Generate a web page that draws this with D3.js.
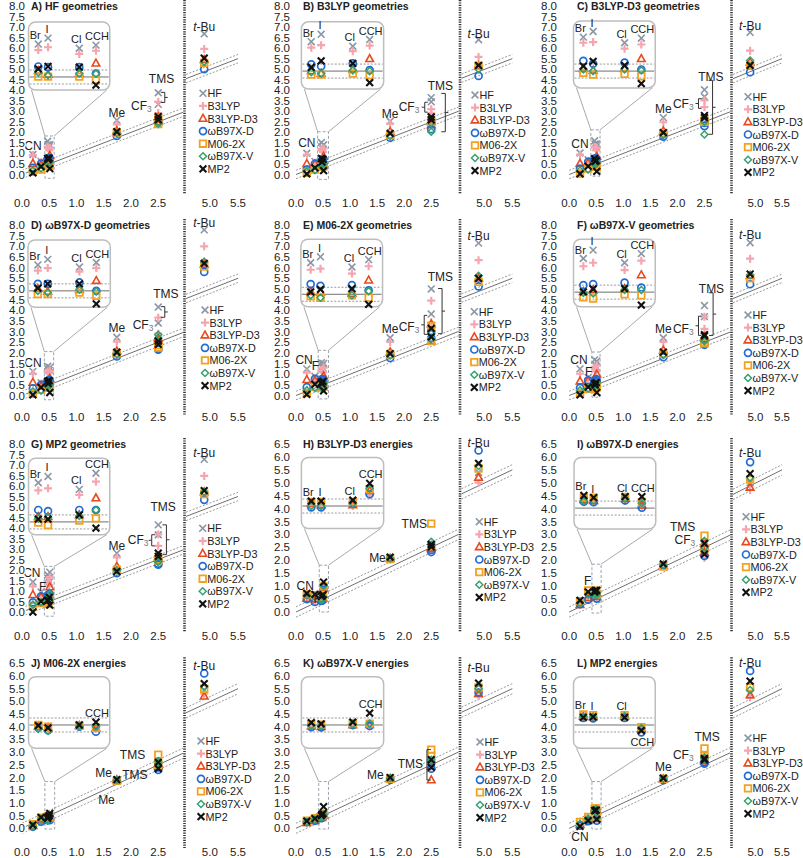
<!DOCTYPE html>
<html><head><meta charset="utf-8">
<script src="https://cdn.jsdelivr.net/npm/d3@7"></script>
<style>
body{margin:0;background:#fff}
svg{display:block}
text{font-family:"Liberation Sans",Arial,Helvetica,sans-serif;fill:#222}
</style></head><body>
<svg id="c" width="803" height="858"></svg>
<script>
// ---------------- DATA ----------------
const methods = ["HF","B3LYP","B3LYP-D3","\u03c9B97X-D","M06-2X","\u03c9B97X-V","MP2"];
const substituents = ["CN","F","Br","I","Cl","CCH","Me","CF3","TMS","t-Bu"];
const subX = [0.2,0.35,0.48,0.47,0.5,0.51,1.74,2.5,2.5,4.9];
const insetSubs = ["Br","I","Cl","CCH"];
const yTicksGeom = [0,0.5,1,1.5,2,2.5,3,3.5,4,4.5,5,5.5,6,6.5,7,7.5,8];
const yTicksEnergy = [0,0.5,1,1.5,2,2.5,3,3.5,4,4.5,5,5.5,6,6.5];
const xTicks = [0,0.5,1,1.5,2,2.5,5,5.5];
const titles = ["A) HF geometries","B) B3LYP geometries","C) B3LYP-D3 geometries",
 "D) \u03c9B97X-D geometries","E) M06-2X geometries","F) \u03c9B97X-V geometries",
 "G) MP2 geometries","H) B3LYP-D3 energies","I) \u03c9B97X-D energies",
 "J) M06-2X energies","K) \u03c9B97X-V energies","L) MP2 energies"];

// rows: HF, B3LYP, B3LYP-D3, wB97X-D, M06-2X, wB97X-V, MP2
// cols: CN, F, Br, I, Cl, CCH, Me, CF3, TMS, t-Bu
const valuesA = [
 [0.95,0.62,1.42,1.58,1.32,1.42,2.58,3.33,3.88,6.68],
 [0.92,0.58,1.25,1.32,1.16,1.26,2.38,2.92,3.45,5.96],
 [0.52,0.45,0.66,0.54,0.60,0.90,2.07,2.60,2.72,5.45],
 [0.32,0.52,0.78,0.75,0.78,0.61,1.83,2.40,2.45,5.00],
 [0.13,0.24,0.49,0.48,0.51,0.43,1.99,2.40,2.68,5.30],
 [0.19,0.30,0.61,0.52,0.60,0.60,1.96,2.42,2.50,5.35],
 [0.08,0.37,0.71,0.77,0.78,0.28,2.03,2.60,2.75,5.52]];
const valuesB = [
 [1.01,0.62,1.32,1.52,1.21,1.41,2.53,3.45,3.65,6.40],
 [0.94,0.55,1.15,1.21,1.07,1.24,2.42,2.90,3.10,5.58],
 [0.51,0.50,0.48,0.40,0.55,0.86,2.03,2.50,2.35,5.15],
 [0.23,0.51,0.67,0.61,0.72,0.54,1.75,2.45,2.15,4.68],
 [0.08,0.23,0.38,0.37,0.43,0.39,1.87,2.55,2.50,5.15],
 [0.16,0.20,0.45,0.40,0.52,0.51,1.83,2.45,2.03,5.00],
 [0.03,0.31,0.59,0.76,0.72,0.18,1.95,2.60,2.73,5.18]];
const valuesC = [
 [1.02,0.70,1.45,1.60,1.31,1.45,2.70,3.69,4.02,6.75],
 [0.94,0.63,1.29,1.30,1.14,1.27,2.48,3.20,3.52,5.88],
 [0.52,0.55,0.55,0.49,0.57,0.86,2.07,2.55,2.60,5.33],
 [0.28,0.60,0.77,0.68,0.74,0.55,1.80,2.45,2.30,4.86],
 [0.05,0.28,0.43,0.37,0.42,0.36,1.96,2.55,2.50,5.18],
 [0.19,0.24,0.53,0.47,0.55,0.53,1.88,2.50,1.90,5.41],
 [0.03,0.39,0.62,0.75,0.66,0.15,1.99,2.70,2.80,5.18]];
const valuesD = [
 [1.13,0.60,1.22,1.37,1.18,1.32,2.73,3.40,4.15,7.77],
 [1.02,0.55,1.06,1.12,1.05,1.16,2.53,2.90,3.65,7.00],
 [0.61,0.45,0.54,0.45,0.53,0.80,2.09,2.60,2.70,6.15],
 [0.34,0.50,0.68,0.67,0.74,0.51,1.83,2.15,2.20,5.80],
 [0.08,0.27,0.39,0.38,0.45,0.37,1.98,2.25,2.35,6.05],
 [0.19,0.23,0.48,0.42,0.53,0.49,1.95,2.70,2.85,6.28],
 [0.03,0.38,0.56,0.67,0.70,0.14,2.03,2.40,2.55,6.20]];
const valuesE = [
 [1.25,0.90,1.38,1.54,1.28,1.50,2.71,3.82,5.00,7.15],
 [1.07,0.80,1.18,1.20,1.09,1.31,2.51,3.43,4.45,6.35],
 [0.74,0.70,0.55,0.52,0.52,0.91,2.04,2.55,3.35,5.50],
 [0.39,0.78,0.77,0.71,0.76,0.62,1.76,2.70,3.00,5.12],
 [0.11,0.40,0.42,0.37,0.47,0.41,1.93,2.55,3.25,5.33],
 [0.24,0.36,0.45,0.37,0.47,0.60,1.88,2.65,2.90,5.62],
 [0.05,0.52,0.55,0.61,0.66,0.22,1.96,2.75,3.15,5.50]];
const valuesF = [
 [1.25,0.85,1.44,1.67,1.34,1.61,2.71,3.70,4.22,7.17],
 [1.02,0.78,1.22,1.31,1.13,1.41,2.51,3.13,3.70,6.42],
 [0.67,0.68,0.49,0.53,0.60,1.00,2.12,2.70,2.75,5.62],
 [0.36,0.71,0.68,0.70,0.77,0.64,1.80,2.40,2.38,5.22],
 [0.11,0.31,0.33,0.29,0.44,0.42,1.96,2.45,2.50,5.50],
 [0.24,0.33,0.46,0.43,0.56,0.57,1.91,2.55,2.60,5.65],
 [0.03,0.39,0.49,0.56,0.60,0.14,2.04,2.80,2.85,5.70]];
const valuesG = [
 [1.43,0.95,1.60,1.77,1.43,1.90,2.80,3.68,4.15,7.27],
 [1.22,0.85,1.38,1.43,1.27,1.66,2.60,3.15,3.70,6.48],
 [0.82,0.72,0.63,0.62,0.70,1.19,2.17,2.55,2.62,5.72],
 [0.46,0.74,0.82,0.78,0.84,0.85,1.85,2.30,2.25,5.34],
 [0.27,0.43,0.46,0.38,0.54,0.61,2.01,2.45,2.50,5.62],
 [0.35,0.46,0.58,0.60,0.67,0.85,1.98,2.40,2.38,5.70],
 [0.00,0.51,0.56,0.55,0.70,0.33,1.93,2.65,2.80,5.78]];
const valuesH = [
 [0.60,0.45,0.55,0.50,0.55,0.88,2.05,2.50,2.60,5.40],
 [0.55,0.42,0.52,0.44,0.50,0.82,2.05,2.45,2.55,5.00],
 [0.52,0.50,0.56,0.50,0.53,0.95,2.07,2.45,2.50,5.20],
 [0.50,0.39,0.44,0.43,0.58,0.85,2.05,2.32,2.40,6.25],
 [0.68,0.65,0.60,0.59,0.62,0.99,2.05,2.55,3.42,5.55],
 [0.64,0.58,0.48,0.47,0.57,1.01,2.08,2.60,2.72,5.65],
 [0.72,0.68,0.62,0.61,0.67,1.16,2.12,2.52,2.62,5.75]];
const valuesI = [
 [0.30,0.60,0.75,0.70,0.76,0.60,1.80,2.30,2.70,5.00],
 [0.28,0.55,0.70,0.65,0.70,0.57,1.78,2.10,2.60,4.72],
 [0.28,0.55,0.72,0.68,0.77,0.59,1.80,2.30,2.65,4.82],
 [0.30,0.48,0.66,0.64,0.72,0.52,1.80,2.17,2.45,5.80],
 [0.42,0.83,0.78,0.77,0.82,0.68,1.76,2.45,2.95,5.12],
 [0.35,0.68,0.68,0.68,0.77,0.65,1.82,2.50,2.75,5.20],
 [0.45,0.78,0.84,0.77,0.83,0.84,1.86,2.24,2.65,5.35]];
const valuesJ = [
 [0.12,0.35,0.45,0.38,0.47,0.42,1.90,2.45,2.60,5.45],
 [0.10,0.30,0.43,0.36,0.46,0.40,1.88,2.40,2.55,5.30],
 [0.10,0.32,0.44,0.39,0.48,0.42,1.90,2.45,2.55,5.20],
 [0.06,0.26,0.40,0.32,0.45,0.32,1.88,2.30,2.40,6.10],
 [0.16,0.42,0.48,0.42,0.48,0.43,1.87,2.50,2.90,5.50],
 [0.08,0.37,0.37,0.30,0.46,0.46,1.90,2.55,2.65,5.58],
 [0.13,0.43,0.46,0.39,0.50,0.59,1.92,2.35,2.60,5.70]];
const valuesK = [
 [0.22,0.30,0.45,0.43,0.50,0.52,1.95,2.50,2.60,5.35],
 [0.20,0.28,0.42,0.40,0.48,0.50,1.93,2.45,2.55,5.20],
 [0.22,0.30,0.45,0.42,0.50,0.52,1.95,2.45,1.90,5.30],
 [0.25,0.30,0.42,0.40,0.50,0.48,1.92,2.35,2.60,5.35],
 [0.30,0.40,0.50,0.48,0.55,0.55,1.95,2.85,3.10,5.55],
 [0.25,0.35,0.47,0.44,0.52,0.55,1.98,2.55,2.70,5.50],
 [0.28,0.38,0.55,0.50,0.58,0.85,2.00,2.40,2.70,5.72]];
const valuesL = [
 [0.15,0.35,0.75,0.72,0.75,0.40,1.95,2.70,2.75,5.30],
 [0.12,0.30,0.70,0.68,0.72,0.38,1.92,2.60,2.70,5.15],
 [0.14,0.32,0.72,0.70,0.74,0.40,1.93,2.65,2.70,5.25],
 [0.10,0.28,0.68,0.66,0.70,0.30,1.90,2.55,2.60,6.20],
 [0.25,0.45,0.78,0.75,0.78,0.45,1.95,2.85,3.15,5.55],
 [0.18,0.38,0.72,0.70,0.75,0.42,1.95,2.75,2.80,5.45],
 [0.08,0.30,0.70,0.70,0.72,0.35,1.98,2.70,2.75,5.80]];
const panelValues = [valuesA,valuesB,valuesC,valuesD,valuesE,valuesF,valuesG,valuesH,valuesI,valuesJ,valuesK,valuesL];

// ---------------- LAYOUT / STYLE ----------------
const COLS = [
 {x0:22, k:54.5, brk:184.5, rd0:4.55, r1:238, lab:25},
 {x0:296, k:54.1, brk:460, rd0:4.57, r1:512.3, lab:290},
 {x0:569.2, k:54.1, brk:731.5, rd0:4.55, r1:782, lab:557}
];
const ROWS = [
 {top:6, zero:174.5, xl:203, tt:6},
 {top:225, zero:395.5, xl:417, tt:225},
 {top:444, zero:612, xl:636, tt:444},
 {top:663.3, zero:828.3, xl:852, tt:663}
];
const titleX = [31, 303, 577];
const insetFrac = [0.12,0.24,0.625,0.83];
const insetLabelShift = {Br:-3, I:-1, Cl:-3, CCH:1};
const insetPxPerUnit = 35;
const ALL_INSET = ["Br","I","Cl","CCH"];
const LAY = [
 {inset:[0.12,1.61,7.24,4.01,4.63], rect:[0.42,0.59,-0.18,1.83], leg:[203,93.3], il:ALL_INSET,
  notes:[["CN",0.2,1.35,"middle"],["Me",1.74,2.9,"middle"],["t-Bu",4.9,7.0,"middle"],["TMS",2.56,4.53,"middle"],["CF3",2.38,3.26,"end"]],
  br:[[2.62,3.9,3.42,"]"]]},
 {inset:[0.10,1.62,7.25,4.06,4.91], rect:[0.40,0.60,-0.23,2.03], leg:[475,95], il:ALL_INSET,
  notes:[["CN",0.2,1.48,"middle"],["Me",1.74,2.89,"middle"],["t-Bu",4.9,6.68,"middle"],["TMS",2.67,4.18,"middle"],["CF3",2.28,3.2,"end"]],
  br:[[2.76,3.85,2.03,"]"],[2.38,3.43,2.96,"{"]]},
 {inset:[0.08,1.59,7.29,4.11,4.91], rect:[0.40,0.57,-0.08,2.12], leg:[748,96.7], il:ALL_INSET,
  notes:[["CN",0.2,1.46,"middle"],["Me",1.74,3.09,"middle"],["t-Bu",4.9,7.06,"middle"],["TMS",2.62,4.63,"middle"],["CF3",2.3,3.37,"end"]],
  br:[[2.65,4.47,1.91,"]"],[2.39,3.6,3.14,"{"]]},
 {inset:[0.11,1.62,7.3,4.14,4.91], rect:[0.41,0.58,-0.2,2.06], leg:[205,310], il:ALL_INSET,
  notes:[["CN",0.2,1.52,"middle"],["Me",1.74,3.16,"middle"],["t-Bu",4.9,8.1,"middle"],["TMS",2.64,4.77,"middle"],["CF3",2.41,3.31,"end"]],
  br:[[2.62,4.17,3.67,"]"]]},
 {inset:[0.09,1.60,7.33,4.16,4.75], rect:[0.41,0.60,-0.16,2.12], leg:[474.3,311.7], il:ALL_INSET,
  notes:[["CN",0.15,1.68,"middle"],["F",0.36,1.38,"middle"],["Me",1.74,3.14,"middle"],["t-Bu",4.9,7.5,"middle"],["TMS",2.67,5.57,"middle"],["CF3",2.28,3.22,"end"]],
  br:[[2.7,5.02,2.9,"]"],[2.37,3.76,2.87,"{"]]},
 {inset:[0.08,1.59,7.33,4.16,4.85], rect:[0.42,0.57,-0.08,2.04], leg:[748,315], il:ALL_INSET,
  notes:[["CN",0.18,1.68,"middle"],["F",0.36,1.08,"middle"],["Me",1.74,3.14,"middle"],["t-Bu",4.9,7.53,"middle"],["TMS",2.63,5.02,"middle"],["CF3",2.3,3.14,"end"]],
  br:[[2.66,4.82,2.82,"]"],[2.39,3.72,2.82,"{"]]},
 {inset:[0.12,1.61,7.32,3.68,4.29], rect:[0.41,0.59,-0.2,2.17], leg:[202.7,528.3], il:ALL_INSET,
  notes:[["CN",0.18,1.86,"middle"],["F",0.38,1.2,"middle"],["Me",1.74,3.15,"middle"],["t-Bu",4.9,7.59,"middle"],["TMS",2.59,4.99,"middle"],["CF3",2.32,3.44,"end"]],
  br:[[2.65,4.15,2.73,"]"],[2.38,3.68,3.15,"{"]]},
 {inset:[0.10,1.62,5.98,3.23,4.1], rect:[0.43,0.60,0.0,1.81], leg:[479.3,521.7], il:ALL_INSET,
  notes:[["CN",0.17,1.0,"middle"],["F",0.39,0.5,"middle"],["Me",1.66,2.09,"end"],["t-Bu",4.9,6.55,"middle"],["TMS",2.42,3.42,"end"]],
  br:[]},
 {inset:[0.09,1.60,5.98,3.21,4.02], rect:[0.42,0.59,-0.04,1.85], leg:[746,516.7], il:ALL_INSET,
  notes:[["F",0.34,1.2,"middle"],["t-Bu",4.9,6.14,"middle"],["TMS",2.33,3.28,"end"],["CF3",2.33,2.78,"end"]],
  br:[]},
 {inset:[0.12,1.61,5.97,3.15,4.07], rect:[0.42,0.60,-0.03,1.84], leg:[201,741], il:["CCH"],
  notes:[["Me",1.65,2.17,"end"],["TMS",2.07,2.1,"middle"],["Me",1.55,1.12,"middle"],["TMS",2.26,2.89,"end"],["t-Bu",4.9,6.4,"middle"]],
  br:[]},
 {inset:[0.10,1.62,5.97,3.15,4.07], rect:[0.42,0.60,-0.03,1.84], leg:[480,742], il:["CCH"],
  notes:[["Me",1.62,2.1,"end"],["TMS",2.35,2.55,"end"],["t-Bu",4.9,6.3,"middle"]],
  br:[[2.42,3.1,1.9,"["]]},
 {inset:[0.08,1.59,5.97,3.15,4.07], rect:[0.42,0.59,-0.03,1.84], leg:[748,738], il:ALL_INSET,
  notes:[["CN",0.2,-0.35,"middle"],["Me",1.74,2.4,"middle"],["TMS",2.55,3.6,"middle"],["CF3",2.3,2.9,"end"],["t-Bu",4.9,6.5,"middle"]],
  br:[]}
];

const SYM = [
 {type:"x", color:"#8b97a5", w:1.6},
 {type:"plus", color:"#f6a5ae", w:2.2},
 {type:"tri", color:"#e8491d", w:1.6},
 {type:"circle", color:"#1f6cd4", w:1.7},
 {type:"square", color:"#f3a21f", w:1.8},
 {type:"diamond", color:"#36a06f", w:1.5},
 {type:"x", color:"#111111", w:2.1}
];
const TICK_FS = 11.5, LEG_FS = 10.8, NOTE_FS = 12, INSET_FS = 11;

const svg = d3.select("#c");

function marker(g, m, cx, cy){
  const st = SYM[m]; let d;
  const r = 3.4;
  if(st.type==="x") d=`M${-r},${-r}L${r},${r}M${-r},${r}L${r},${-r}`;
  else if(st.type==="plus") d=`M-4,0H4M0,-4V4`;
  else if(st.type==="tri") d=`M0,-4.1L3.8,2.7L-3.8,2.7Z`;
  else if(st.type==="square") d=`M-3.3,-3.3H3.3V3.3H-3.3Z`;
  else if(st.type==="diamond") d=`M0,-3.5L3.5,0L0,3.5L-3.5,0Z`;
  if(st.type==="circle"){
    g.append("circle").attr("cx",cx).attr("cy",cy).attr("r",3.5)
      .attr("fill","none").attr("stroke",st.color).attr("stroke-width",st.w);
  } else {
    g.append("path").attr("d",d).attr("transform",`translate(${cx},${cy})`)
      .attr("fill","none").attr("stroke",st.color).attr("stroke-width",st.w);
  }
}

function label(g, txt, x, y, anchor, size){
  const t = g.append("text").attr("x",x).attr("y",y).attr("text-anchor",anchor)
    .attr("dominant-baseline","central").attr("font-size",size).attr("fill","#222");
  if(txt==="CF3"){ t.append("tspan").text("CF"); t.append("tspan").attr("font-size",size*0.7).attr("dy",3).attr("fill","#777").text("3"); }
  else if(txt==="t-Bu"){ t.append("tspan").attr("font-style","italic").text("t"); t.append("tspan").text("-Bu"); }
  else t.text(txt);
  return t;
}

panelValues.forEach((vals, pi) => {
  const c = COLS[pi%3], rw = ROWS[Math.floor(pi/3)], L = LAY[pi];
  const energy = pi >= 7;
  const yMax = energy ? 6.5 : 8;
  const xl = d3.scaleLinear().domain([0,3]).range([c.x0, c.x0+3*c.k]);
  const xr = d3.scaleLinear().domain([c.rd0,5.5]).range([c.brk, c.r1]);
  const x = v => v < 4 ? xl(v) : xr(v);
  const y = d3.scaleLinear().domain([0,yMax]).range([rw.zero, rw.top]);
  const g = svg.append("g");

  const xEnd = xl.invert(c.brk-1.5);
  [[0,"#6f6f6f",null],[0.2,"#9a9a9a","2,1.6"],[-0.2,"#9a9a9a","2,1.6"]].forEach(([off,col,da])=>{
    const ln = g.append("g").attr("stroke",col).attr("stroke-width",1).attr("fill","none");
    const a = ln.append("line").attr("x1",xl(0)).attr("y1",y(0+off)).attr("x2",xl(xEnd)).attr("y2",y(xEnd+off));
    const b = ln.append("line").attr("x1",xr(c.rd0)+1.5).attr("y1",y(c.rd0+off)).attr("x2",xr(5.5)).attr("y2",y(5.5+off));
    if(da){a.attr("stroke-dasharray",da); b.attr("stroke-dasharray",da);}
  });

  const [rx0,rx1,ry0,ry1] = L.rect;
  g.append("rect").attr("x",x(rx0)).attr("y",y(ry1)).attr("width",x(rx1)-x(rx0)).attr("height",y(ry0)-y(ry1))
    .attr("fill","none").attr("stroke","#9aa3ad").attr("stroke-width",1).attr("stroke-dasharray","3,2");
  const [ix0,ix1,iyT,iyB,ic] = L.inset;
  const bx0=x(ix0), bx1=x(ix1), by0=y(iyT), by1=y(iyB);
  g.append("line").attr("x1",x(rx0)).attr("y1",y(ry1)).attr("x2",bx0+3).attr("y2",by1).attr("stroke","#aaa");
  g.append("line").attr("x1",x(rx1)).attr("y1",y(ry1)).attr("x2",bx1-3).attr("y2",by1).attr("stroke","#aaa");
  g.append("rect").attr("x",bx0).attr("y",by0).attr("width",bx1-bx0).attr("height",by1-by0).attr("rx",7)
    .attr("fill","#fff").attr("stroke","#bdbdbd").attr("stroke-width",1.5);
  const iy = d3.scaleLinear().domain([0,1]).range([y(ic), y(ic)-insetPxPerUnit]);
  const ixs = d3.scaleOrdinal().domain(insetSubs).range(insetFrac.map(f=>bx0+f*(bx1-bx0)));
  [[0,"#6f6f6f",null],[0.2,"#9a9a9a","2,1.6"],[-0.2,"#9a9a9a","2,1.6"]].forEach(([off,col,da])=>{
    const l = g.append("line").attr("x1",bx0+1).attr("x2",bx1-1).attr("y1",iy(off)).attr("y2",iy(off))
      .attr("stroke",col).attr("stroke-width",1);
    if(da) l.attr("stroke-dasharray",da);
  });
  insetSubs.forEach(s => {
    const si = substituents.indexOf(s);
    let top = Infinity, bot = -Infinity;
    vals.forEach((row,m) => {
      const py = iy(row[si]-subX[si]);
      top = Math.min(top,py); bot=Math.max(bot,py);
      marker(g, m, ixs(s), py);
    });
    if(L.il.includes(s)){
      const below = (pi===11 && s==="CCH");
      label(g, s, ixs(s) + insetLabelShift[s], below ? bot+10 : top-9, "middle", INSET_FS);
    }
  });

  vals.forEach((row,m) => {
    row.forEach((v,i) => marker(g, m, x(subX[i]), y(v)));
  });

  L.notes.forEach(([t,nx,ny,an]) => label(g, t, x(nx), y(ny), an, NOTE_FS));
  L.br.forEach(([bxv,ya,yb,type]) => {
    const X = x(bxv), Y1=y(ya), Y2=y(yb);
    let d;
    if(type==="]") d=`M${X-4},${Y1}H${X}V${Y2}H${X-4}M${X},${(Y1+Y2)/2}H${X+3}`;
    else if(type==="[") d=`M${X+4},${Y1}H${X}V${Y2}H${X+4}`;
    else d=`M${X+3},${Y1}H${X}V${Y2}H${X+3}M${X},${(Y1+Y2)/2}H${X-3}`;
    g.append("path").attr("d",d).attr("fill","none").attr("stroke","#333").attr("stroke-width",1);
  });

  const [lx,ly] = L.leg;
  methods.forEach((mn,m) => {
    marker(g, m, lx, ly + m*12.6);
    label(g, mn, lx+4.5, ly + m*12.6, "start", LEG_FS);
  });

  (energy ? yTicksEnergy : yTicksGeom).forEach(v => {
    g.append("text").attr("x",c.lab).attr("y",y(v)).attr("text-anchor","end").attr("dominant-baseline","central")
      .attr("font-size",TICK_FS).attr("stroke","#fff").attr("stroke-width",3).attr("paint-order","stroke")
      .attr("fill","#222").text(d3.format(".1f")(v));
  });
  xTicks.forEach(v => {
    g.append("text").attr("x",x(v)).attr("y",rw.xl).attr("text-anchor","middle").attr("dominant-baseline","central")
      .attr("font-size",TICK_FS).attr("fill","#222").text(d3.format(".1f")(v));
  });
  g.append("line").attr("x1",c.brk).attr("x2",c.brk).attr("y1",rw.top-6).attr("y2",rw.zero+20)
    .attr("stroke","#333").attr("stroke-width",2.6).attr("stroke-dasharray","1.2,1.2");
  g.append("text").attr("x",titleX[pi%3]).attr("y",rw.tt).attr("dominant-baseline","central")
    .attr("font-family","Lato, 'Open Sans', sans-serif").attr("font-weight","bold").attr("font-size",10.5)
    .attr("fill","#111").text(titles[pi]);
});
</script></body></html>
